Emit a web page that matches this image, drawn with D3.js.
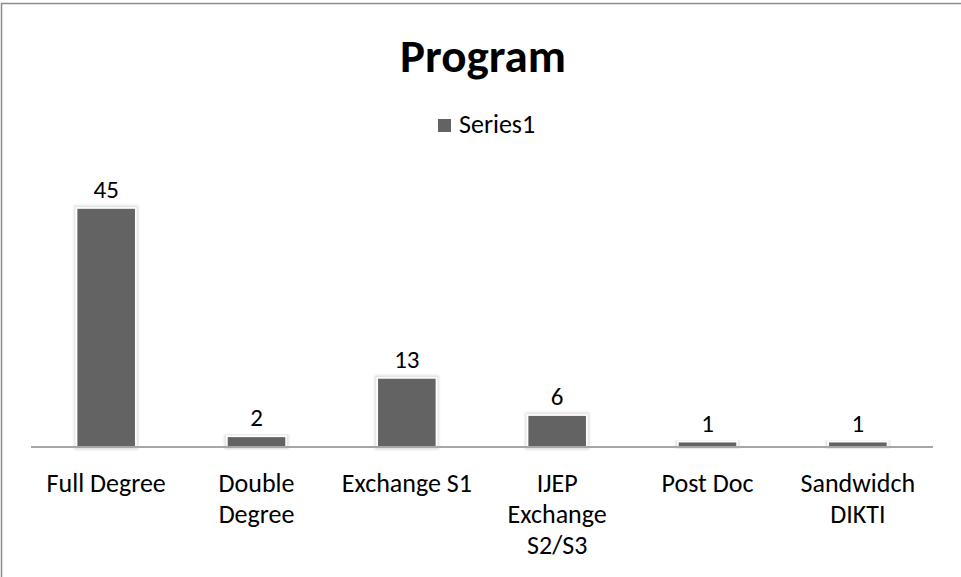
<!DOCTYPE html>
<html>
<head>
<meta charset="utf-8">
<script src="https://cdn.jsdelivr.net/npm/d3@7"></script>
<style>
  html, body { margin: 0; padding: 0; background: #fff; }
  svg { display: block; }
  text { font-family: Carlito, Lato, "Open Sans", sans-serif; fill: #000; }
</style>
</head>
<body>
<svg id="chart" width="961" height="577"></svg>
<script>
const categories = [["Full Degree"], ["Double", "Degree"], ["Exchange S1"], ["IJEP", "Exchange", "S2/S3"], ["Post Doc"], ["Sandwidch", "DIKTI"]];
const values = [45, 2, 13, 6, 1, 1];
const seriesName = "Series1";
const title = "Program";

const W = 961, H = 577;
const svg = d3.select("#chart");

// chart border (only top and left are inside the picture)
svg.append("rect")
  .attr("x", 1.5).attr("y", 3.5)
  .attr("width", W + 10).attr("height", H + 10)
  .attr("fill", "#fff").attr("stroke", "#8c8c8c").attr("stroke-width", 1.5);

const plotLeft = 31, plotRight = 933, baseY = 447;
const ids = categories.map((c, i) => i);
const x = d3.scaleBand().domain(ids).range([plotLeft, plotRight])
  .paddingInner(0.607).paddingOuter(0.3035);
const y = d3.scaleLinear().domain([0, 50]).range([baseY, baseY - 5.31 * 50]);

const defs = svg.append("defs");
const f = defs.append("filter").attr("id", "glow")
  .attr("x", "-20%").attr("y", "-20%").attr("width", "140%").attr("height", "140%");
f.append("feMorphology").attr("in", "SourceAlpha").attr("operator", "dilate").attr("radius", 2).attr("result", "d");
f.append("feGaussianBlur").attr("in", "d").attr("stdDeviation", 1.2).attr("result", "b");
f.append("feFlood").attr("flood-color", "#000").attr("flood-opacity", 0.12);
f.append("feComposite").attr("in2", "b").attr("operator", "in").attr("result", "s");
const m = f.append("feMerge");
m.append("feMergeNode").attr("in", "s");
m.append("feMergeNode").attr("in", "SourceGraphic");

// title
svg.append("text")
  .attr("x", 483).attr("y", 72)
  .attr("text-anchor", "middle")
  .attr("font-size", 47).attr("font-weight", "bold")
  .text(title);

// legend
svg.append("rect").attr("x", 438).attr("y", 119).attr("width", 13).attr("height", 13).attr("fill", "#636363");
svg.append("text").attr("x", 459).attr("y", 133).attr("font-size", 26).text(seriesName);

// bars
svg.append("g").selectAll("rect").data(values).join("rect")
  .attr("x", (d, i) => x(i))
  .attr("width", x.bandwidth())
  .attr("y", d => y(d))
  .attr("height", d => y(0) - y(d))
  .attr("fill", "#636363")
  .attr("stroke", "#ffffff").attr("stroke-width", 1.5)
  .attr("filter", "url(#glow)");

// value labels
svg.append("g").selectAll("text").data(values).join("text")
  .attr("x", (d, i) => x(i) + x.bandwidth() / 2)
  .attr("y", d => y(d) - 10)
  .attr("text-anchor", "middle")
  .attr("font-size", 25)
  .text(d => d);

// x axis
const xAxis = d3.axisBottom(x).tickSize(0).tickFormat(() => "");
const ax = svg.append("g").attr("transform", `translate(0,${baseY})`).call(xAxis);
ax.select(".domain").attr("stroke", "#a6a6a6").attr("stroke-width", 2)
  .attr("d", `M${plotLeft},0H${plotRight}`);

// category labels
const lab = svg.append("g").selectAll("text").data(categories).join("text")
  .attr("text-anchor", "middle")
  .attr("font-size", 26)
  .attr("transform", (d, i) => `translate(${x(i) + x.bandwidth() / 2},492)`);
lab.selectAll("tspan").data(d => d).join("tspan")
  .attr("x", 0).attr("y", (d, j) => j * 31)
  .text(d => d);
</script>
</body>
</html>
